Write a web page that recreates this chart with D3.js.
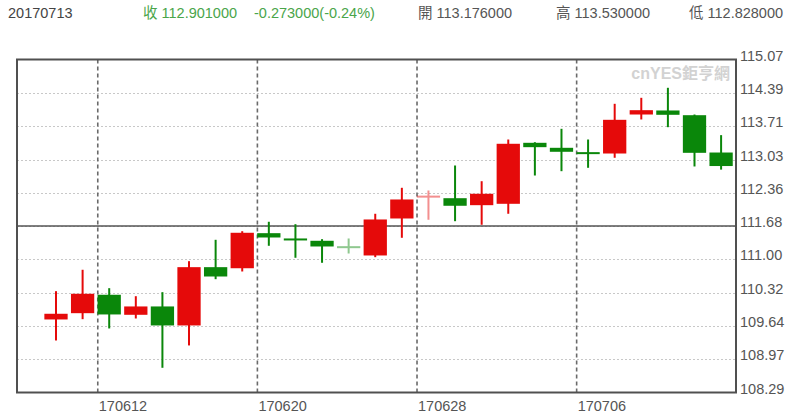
<!DOCTYPE html>
<html><head><meta charset="utf-8">
<script src="https://cdn.jsdelivr.net/npm/d3@7"></script>
<style>html,body{margin:0;padding:0;background:#fff;}svg{display:block;}</style>
</head><body>
<svg id="c" width="800" height="418"></svg>
<script>
const dates = ["170608","170609","170612","170613","170614","170615","170616","170619","170620","170621","170622","170623","170626","170627","170628","170629","170630","170703","170704","170705","170706","170707","170710","170711","170712","170713"];
const openV  = [109.777,109.905,110.280,109.872,110.042,109.655,110.842,110.820,111.534,111.420,111.379,111.253,111.080,111.833,112.271,112.246,112.104,112.132,113.374,113.272,113.177,113.156,113.950,114.032,113.936,113.176];
const highV  = [110.353,110.789,110.414,110.251,110.333,110.964,111.399,111.574,111.766,111.717,111.412,111.426,111.929,112.458,112.403,112.912,112.592,113.441,113.386,113.659,113.441,114.168,114.290,114.494,113.950,113.530];
const lowV   = [109.349,109.783,109.594,109.797,108.793,109.248,110.597,110.754,111.277,111.033,110.931,111.120,111.045,111.440,111.807,111.778,111.705,111.929,112.708,112.796,112.865,113.069,113.849,113.692,112.892,112.828];
const closeV = [109.893,110.300,109.879,110.042,109.655,110.842,110.652,111.542,111.446,111.392,111.263,111.245,111.813,112.220,112.285,112.092,112.336,113.354,113.285,113.191,113.150,113.842,114.038,113.944,113.170,112.901];
const yTicks = [108.29,108.97,109.64,110.32,111.00,111.68,112.36,113.03,113.71,114.39,115.07];
const xTickLabels = ["170612","170620","170628","170706"];
const refLine = 111.68;
const headerDate = "20170713";
const headerClose = "收 112.901000";
const headerChange = "-0.273000(-0.24%)";
const headerOpen = "開 113.176000";
const headerHigh = "高 113.530000";
const headerLow = "低 112.828000";
const watermark = "cnYES鉅亨網";

const L = 17, R = 736, T = 59.5, B = 392.5;
const svg = d3.select("#c");
const x = d3.scaleLinear().domain([-1.466, 25.56]).range([L, R]);
const y = d3.scaleLinear().domain([d3.min(yTicks), d3.max(yTicks)]).range([B, T]);
const step = x(1) - x(0);
const bw = step * 0.875;
const font = "'Liberation Sans', Arial, sans-serif";

// horizontal dotted grid
svg.append("g").selectAll("line").data(yTicks.slice(1, -1)).join("line")
  .attr("x1", L).attr("x2", R).attr("y1", d => Math.round(y(d)) + 0.5).attr("y2", d => Math.round(y(d)) + 0.5)
  .attr("stroke", "#c8c8c8").attr("stroke-width", 1).attr("stroke-dasharray", "2,2");

// vertical dashed lines at tick dates
const tickIdx = xTickLabels.map(t => dates.indexOf(t));
svg.append("g").selectAll("line").data(tickIdx).join("line")
  .attr("x1", d => x(d - 0.43)).attr("x2", d => x(d - 0.43)).attr("y1", T).attr("y2", B)
  .attr("stroke", "#6a6a6a").attr("stroke-width", 1.6).attr("stroke-dasharray", "4,3");

// reference solid line
svg.append("line").attr("x1", L).attr("x2", R).attr("y1", y(refLine)).attr("y2", y(refLine))
  .attr("stroke", "#555").attr("stroke-width", 1.6);

// watermark
svg.append("text").attr("x", 730).attr("y", 79).attr("text-anchor", "end")
  .attr("font-family", "'Liberation Sans','Noto Sans CJK TC',sans-serif").attr("font-weight", "bold")
  .attr("font-size", 16).attr("fill", "#d2d2d2").text(watermark);

// candles
const idx = d3.range(dates.length);
const colorOf = i => closeV[i] >= openV[i] ? "#e50a0a" : "#0a870a";
const g = svg.append("g").selectAll("g").data(idx).join("g")
  .attr("opacity", i => Math.abs(y(openV[i]) - y(closeV[i])) < 1 ? 0.45 : 1);
g.append("line")
  .attr("x1", i => x(i)).attr("x2", i => x(i))
  .attr("y1", i => y(highV[i])).attr("y2", i => y(lowV[i]))
  .attr("stroke", colorOf).attr("stroke-width", 2);
g.append("rect")
  .attr("x", i => x(i) - bw / 2).attr("width", bw)
  .attr("y", i => {
    const h = Math.abs(y(openV[i]) - y(closeV[i]));
    const top = Math.min(y(openV[i]), y(closeV[i]));
    return h < 2 ? (top + h / 2 - 1) : top;
  })
  .attr("height", i => Math.max(2, Math.abs(y(openV[i]) - y(closeV[i]))))
  .attr("fill", colorOf);

// border
svg.append("rect").attr("x", L).attr("y", T).attr("width", R - L).attr("height", B - T)
  .attr("fill", "none").attr("stroke", "#505050").attr("stroke-width", 2);

// y labels
svg.append("g").selectAll("text").data(yTicks).join("text")
  .attr("x", 740).attr("y", d => y(d) + 1)
  .attr("font-family", font).attr("font-size", 14.5).attr("fill", "#555")
  .text(d => d.toFixed(2));

// x labels
svg.append("g").selectAll("text").data(tickIdx).join("text")
  .attr("x", d => x(d - 0.43) + 1).attr("y", 411)
  .attr("font-family", font).attr("font-size", 14.5).attr("fill", "#555")
  .text(d => dates[d]);

// header
const hdr = [
  [8, headerDate, "#444"],
  [143, headerClose, "#4aa54a"],
  [254, headerChange, "#4aa54a"],
  [418, headerOpen, "#555"],
  [556, headerHigh, "#555"],
  [689, headerLow, "#555"]
];
svg.append("g").selectAll("text").data(hdr).join("text")
  .attr("x", d => d[0]).attr("y", 18)
  .attr("font-family", "'Liberation Sans','Noto Sans CJK TC',sans-serif").attr("font-size", 14.5)
  .attr("fill", d => d[2]).text(d => d[1]);
</script>
</body></html>
